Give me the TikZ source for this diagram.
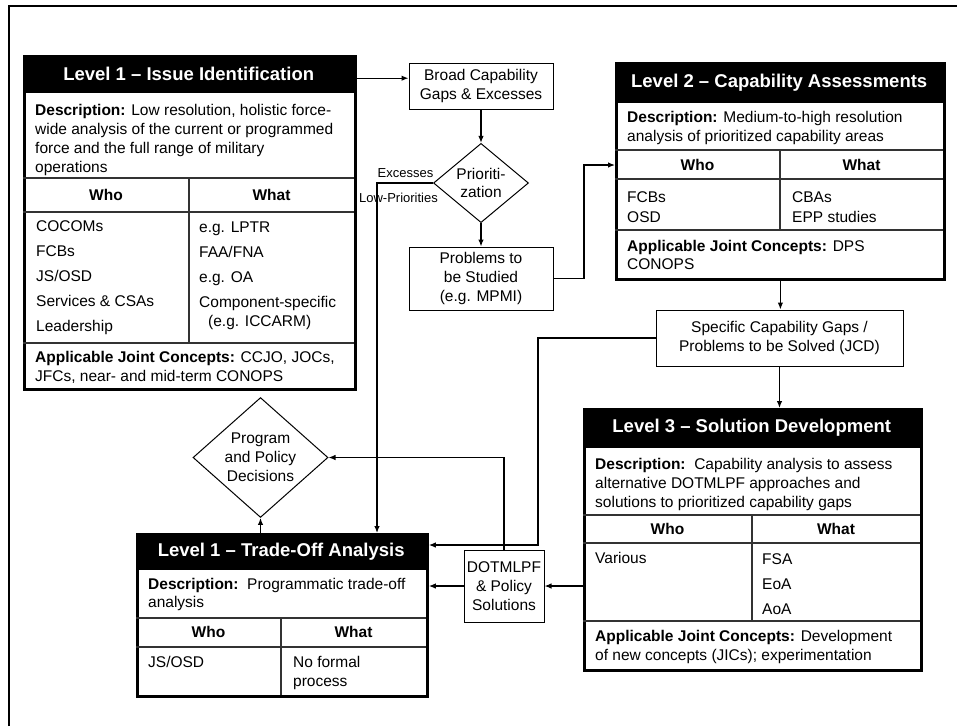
\documentclass[tikz,border=0pt]{standalone}
\usepackage{fontspec}
\setmainfont{Liberation Sans}
\usepackage{tikz}
\usetikzlibrary{arrows.meta,shapes.geometric,positioning,calc}

\newcommand{\dgtxt}{\fontsize{15.5}{18.8}\selectfont}
\newcommand{\dghead}{\fontsize{18.5}{22}\selectfont\bfseries}
\newcommand{\dglbl}{\fontsize{13}{15}\selectfont}

\tikzset{
  lvlbox/.style={draw, line width=2.8pt, anchor=north west, inner sep=0pt},
  lvlhead/.style={fill=black, text=white, font=\dghead, anchor=north west, inner sep=0pt},
  rule/.style={line width=1.3pt, draw=black!80},
  cell/.style={font=\dgtxt, inner sep=0pt, align=left},
  flowbox/.style={draw, line width=1pt, font=\dgtxt, align=center, inner sep=0pt},
  decision/.style={diamond, draw, line width=1pt, font=\dgtxt, align=center, inner sep=0pt},
  lbl/.style={font=\dglbl, inner sep=0pt},
}

\begin{document}
\begin{tikzpicture}[x=1pt, y=-1pt, >={Latex[length=7pt,width=5.5pt]},
    conn/.style={->, line width=1.2pt}]
    \useasboundingbox (0,0) rectangle (957,726);
    \draw[line width=2.5pt] (9,726) -- (9,6) -- (957,6);

    % Level 1 - issue identification
    \node[lvlhead, minimum width=331, minimum height=38] (l1h) at (23,55) {Level 1 – Issue Identification};
    \node[lvlbox, minimum width=331, minimum height=333] (l1) at (23,55) {};
    \draw[rule] (23,178) -- (354,178);
    \draw[rule] (23,212) -- (354,212);
    \draw[rule] (23,343) -- (354,343);
    \draw[rule] (189,178) -- (189,343);
    \node[cell, anchor=west] (l1d) at (35,140) {\textbf{Description:} Low resolution, holistic force-\\wide analysis of the current or programmed\\force and the full range of military\\operations};
    \node[cell, font=\dgtxt\bfseries] (l1who) at (106,195) {Who};
    \node[cell, font=\dgtxt\bfseries] (l1what) at (271.5,195) {What};
    \node[cell, anchor=west] (l1w) at (36,278) {COCOMs\\[6.2pt]FCBs\\[6.2pt]JS/OSD\\[6.2pt]Services \& CSAs\\[6.2pt]Leadership};
    \node[cell, anchor=west] (l1t) at (199,276) {e.g. LPTR\\[6.2pt]FAA/FNA\\[6.2pt]e.g. OA\\[6.2pt]Component-specific\\\hspace*{9pt}(e.g. ICCARM)};
    \node[cell, anchor=west] (l1a) at (35,367) {\textbf{Applicable Joint Concepts:} CCJO, JOCs,\\JFCs, near- and mid-term CONOPS};

    % flow in the middle
    \node[flowbox, minimum width=144, minimum height=46] (broad) at (481,86) {Broad Capability\\Gaps \& Excesses};
    \node[decision, minimum width=95, minimum height=79] (prio) at (481,183) {Prioriti-\\zation};
    \node[flowbox, minimum width=144, minimum height=63] (prob) at (481,278.5) {Problems to\\be Studied\\(e.g. MPMI)};
    \node[lbl] (exclbl) at (405.5,173) {Excesses};
    \node[lbl] (lowlbl) at (398.5,198) {Low-Priorities};

    % Level 2 - capability assessments
    \node[lvlhead, minimum width=328, minimum height=41] (l2h) at (615,62) {Level 2 – Capability Assessments};
    \node[lvlbox, minimum width=328, minimum height=216] (l2) at (615,62) {};
    \draw[rule] (615,150) -- (943,150);
    \draw[rule] (615,179) -- (943,179);
    \draw[rule] (615,230) -- (943,230);
    \draw[rule] (780,150) -- (780,230);
    \node[cell, anchor=west] (l2d) at (627,128) {\textbf{Description:} Medium-to-high resolution\\analysis of prioritized capability areas};
    \node[cell, font=\dgtxt\bfseries] (l2who) at (697.5,165) {Who};
    \node[cell, font=\dgtxt\bfseries] (l2what) at (861.5,165) {What};
    \node[cell, anchor=west] (l2w) at (627,207) {FCBs\\[1.2pt]OSD};
    \node[cell, anchor=west] (l2t) at (792,207) {CBAs\\[1.2pt]EPP studies};
    \node[cell, anchor=west] (l2a) at (627,255) {\textbf{Applicable Joint Concepts:} DPS\\CONOPS};

    \node[flowbox, minimum width=247, minimum height=56] (spec) at (779.5,338) {Specific Capability Gaps /\\Problems to be Solved (JCD)};

    % Level 3 - solution development
    \node[lvlhead, minimum width=337, minimum height=40] (l3h) at (583,408) {Level 3 – Solution Development};
    \node[lvlbox, minimum width=337, minimum height=261] (l3) at (583,408) {};
    \draw[rule] (583,515) -- (920,515);
    \draw[rule] (583,543) -- (920,543);
    \draw[rule] (583,621) -- (920,621);
    \draw[rule] (752,515) -- (752,621);
    \node[cell, anchor=west] (l3d) at (595,484.5) {\textbf{Description:}\ \ Capability analysis to assess\\alternative DOTMLPF approaches and\\solutions to prioritized capability gaps};
    \node[cell, font=\dgtxt\bfseries] (l3who) at (667.5,529) {Who};
    \node[cell, font=\dgtxt\bfseries] (l3what) at (836,529) {What};
    \node[cell, anchor=west] (l3w) at (595,558) {Various};
    \node[cell, anchor=west] (l3t) at (762,584) {FSA\\[6.2pt]EoA\\[6.2pt]AoA};
    \node[cell, anchor=west] (l3a) at (595,647) {\textbf{Applicable Joint Concepts:} Development\\of new concepts (JICs); experimentation};

    % Level 1 - trade-off analysis
    \node[lvlhead, minimum width=290, minimum height=37] (tradeh) at (136,533) {Level 1 – Trade-Off Analysis};
    \node[lvlbox, minimum width=290, minimum height=162] (trade) at (136,533) {};
    \draw[rule] (136,618) -- (426,618);
    \draw[rule] (136,647) -- (426,647);
    \draw[rule] (281,618) -- (281,695);
    \node[cell, anchor=west] (trd) at (148,594.5) {\textbf{Description:}\ \ Programmatic trade-off\\analysis};
    \node[cell, font=\dgtxt\bfseries] (trwho) at (208.5,632) {Who};
    \node[cell, font=\dgtxt\bfseries] (trwhat) at (353.5,632) {What};
    \node[cell, anchor=west] (trw) at (148,662) {JS/OSD};
    \node[cell, anchor=west] (trt) at (293,673) {No formal\\process};

    \node[flowbox, minimum width=80, minimum height=72] (dot) at (504,586) {DOTMLPF\\\& Policy\\Solutions};
    \node[decision, minimum width=135, minimum height=119] (pdec) at (260.5,457.5) {Program\\and Policy\\Decisions};

    % connectors
    \coordinate (a1) at ([yshift=-4pt]l1h.east);
    \draw[conn] (a1) -- (a1 -| broad.west);
    \draw[conn] (broad.south) -- (prio.north);
    \draw[conn] (prio.south) -- (prob.north);
    \coordinate (exc) at (377,183);
    \draw[conn] (prio.west) -- (exc) -- (exc |- tradeh.north);
    \coordinate (p5) at (584,165);
    \draw[conn] (prob.east) -| (p5) -- (p5 -| l2.west);
    \draw[conn] (l2.south) -- (l2.south |- spec.north);
    \draw[conn] (spec.south) -- (spec.south |- l3.north);
    \coordinate (p8) at (538,545);
    \draw[conn] (spec.west) -| (p8) -- (p8 -| trade.east);
    \draw[conn] (dot.north) |- (pdec.east);
    \draw[conn] (pdec.south |- trade.north) -- (pdec.south);
    \draw[conn] (dot.east -| l3.west) -- (dot.east);
    \draw[conn] (dot.west) -- (dot.west -| trade.east);
\end{tikzpicture}
\end{document}
